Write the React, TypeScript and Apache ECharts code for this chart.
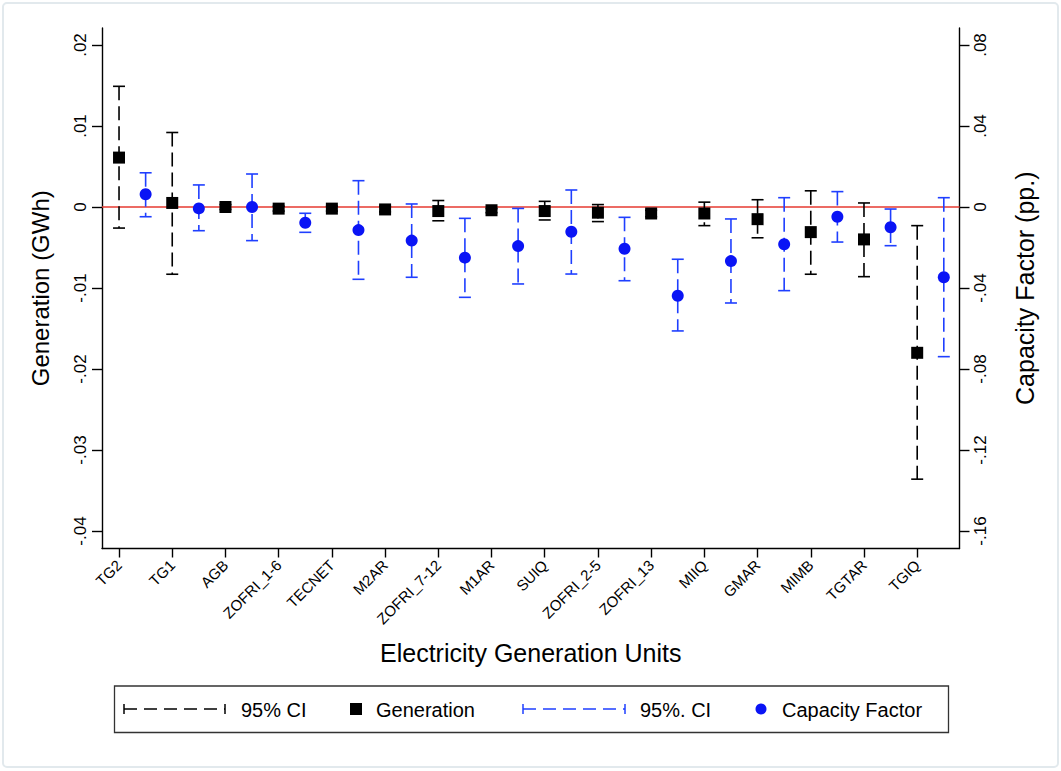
import React, { useEffect, useRef } from 'react';
import * as echarts from 'echarts';

const categories = ['TG2', 'TG1', 'AGB', 'ZOFRI_1-6', 'TECNET', 'M2AR', 'ZOFRI_7-12', 'M1AR', 'SUIQ', 'ZOFRI_2-5', 'ZOFRI_13', 'MIIQ', 'GMAR', 'MIMB', 'TGTAR', 'TGIQ'];

const genEst = [0.0061, 0.0005, 0.0000, -0.0002, -0.0002, -0.0003, -0.0005, -0.0004, -0.0005, -0.0007, -0.0008, -0.0008, -0.0015, -0.0031, -0.0040, -0.0180];
const genLow = [-0.0026, -0.0083, -0.0003, -0.0005, -0.0005, -0.0006, -0.0017, -0.0007, -0.0016, -0.0018, -0.0012, -0.0023, -0.0038, -0.0083, -0.0086, -0.0336];
const genHigh = [0.0149, 0.0092, 0.0003, 0.0001, 0.0001, 0.0001, 0.0008, -0.0002, 0.0007, 0.0003, -0.0004, 0.0006, 0.0009, 0.0020, 0.0005, -0.0023];

const cfEst = [0.0063, -0.0007, 0.0000, -0.0078, -0.0114, -0.0166, -0.0250, -0.0193, -0.0122, -0.0206, -0.0438, -0.0267, -0.0184, -0.0048, -0.0100, -0.0347];
const cfLow = [-0.0048, -0.0117, -0.0166, -0.0125, -0.0357, -0.0347, -0.0446, -0.0380, -0.0331, -0.0364, -0.0612, -0.0474, -0.0413, -0.0173, -0.0191, -0.0739];
const cfHigh = [0.0169, 0.0109, 0.0163, -0.0031, 0.0130, 0.0015, -0.0056, -0.0007, 0.0084, -0.0051, -0.0258, -0.0059, 0.0046, 0.0076, -0.0010, 0.0046];

const genTicks = [-0.04, -0.03, -0.02, -0.01, 0, 0.01, 0.02];
const cfTicks = [-0.16, -0.12, -0.08, -0.04, 0, 0.04, 0.08];
const genRange = [-0.04216, 0.0221];
const cfRange = [-0.16864, 0.0884];
const xRange = [0.68, 16.795];
const zeroLine = [[xRange[0], 0], [xRange[1], 0]];

const legendLabels = ['95% CI', 'Generation', '95%. CI', 'Capacity Factor'];

const FONT = "'Liberation Sans', Arial, Helvetica, sans-serif";
const BLACK = '#000000';
const BLUE_LINE = '#1f3fff';
const BLUE_MARK = '#0a14f5';
const RED = '#e63a30';

function stataFmt(v: number): string {
  if (Math.abs(v) < 1e-9) return '0';
  const s = Math.abs(v).toFixed(2).replace(/^0/, '');
  return (v < 0 ? '-' : '') + s;
}

function ciRender(color: string) {
  return (params: any, api: any) => {
    const x = api.value(0);
    const lo = api.value(1);
    const hi = api.value(2);
    const pLo = api.coord([x, lo]);
    const pHi = api.coord([x, hi]);
    const hw = 6;
    return {
      type: 'group',
      children: [
        {
          type: 'line',
          shape: { x1: pHi[0], y1: pHi[1], x2: pLo[0], y2: pLo[1] },
          style: { stroke: color, lineWidth: 1.6, lineDash: [14, 6] },
        },
        {
          type: 'line',
          shape: { x1: pHi[0] - hw, y1: pHi[1], x2: pHi[0] + hw, y2: pHi[1] },
          style: { stroke: color, lineWidth: 1.6 },
        },
        {
          type: 'line',
          shape: { x1: pLo[0] - hw, y1: pLo[1], x2: pLo[0] + hw, y2: pLo[1] },
          style: { stroke: color, lineWidth: 1.6 },
        },
      ],
    };
  };
}

function legendGraphic() {
  const cy = 709;
  const dashed = (x1: number, x2: number, color: string) => [
    { type: 'line', shape: { x1, y1: cy, x2, y2: cy }, style: { stroke: color, lineWidth: 1.5, lineDash: [13, 7] } },
    { type: 'line', shape: { x1, y1: cy - 5, x2: x1, y2: cy + 5 }, style: { stroke: color, lineWidth: 1.5 } },
    { type: 'line', shape: { x1: x2, y1: cy - 5, x2: x2, y2: cy + 5 }, style: { stroke: color, lineWidth: 1.5 } },
  ];
  const txt = (x: number, t: string) => ({
    type: 'text',
    x,
    y: cy + 1,
    style: { text: t, font: `20px ${FONT}`, fill: '#000', textVerticalAlign: 'middle', verticalAlign: 'middle' },
  });
  return [
    {
      type: 'rect',
      shape: { x: 3, y: 3, width: 1055, height: 764, r: 4 },
      style: { fill: 'none', stroke: '#e2e9ed', lineWidth: 2 },
      silent: true,
    },
    {
      type: 'rect',
      shape: { x: 114.5, y: 686, width: 834, height: 46.5 },
      style: { fill: 'none', stroke: '#333', lineWidth: 1.3 },
      silent: true,
    },
    ...dashed(124, 225, BLACK),
    txt(241, legendLabels[0]),
    { type: 'rect', shape: { x: 350, y: cy - 6, width: 12, height: 12 }, style: { fill: BLACK } },
    txt(376, legendLabels[1]),
    ...dashed(523, 625, BLUE_LINE),
    txt(640, legendLabels[2]),
    { type: 'circle', shape: { cx: 761, cy, r: 5.5 }, style: { fill: BLUE_MARK } },
    txt(782, legendLabels[3]),
  ];
}

export default function App() {
  const ref = useRef<HTMLDivElement>(null);

  useEffect(() => {
    if (!ref.current) return;
    const chart = echarts.init(ref.current, undefined, { renderer: 'svg' });

    const catPos = categories.map((_, i) => i + 1);
    const genCI = categories.map((_, i) => [i + 1, genLow[i], genHigh[i]]);
    const genPts = categories.map((_, i) => [i + 1, genEst[i]]);
    const cfCI = categories.map((_, i) => [i + 1.5, cfLow[i], cfHigh[i]]);
    const cfPts = categories.map((_, i) => [i + 1.5, cfEst[i]]);

    const axisLineStyle = { color: BLACK, width: 1.4 };

    chart.setOption({
      animation: false,
      backgroundColor: '#ffffff',
      textStyle: { fontFamily: FONT },
      grid: { left: 102, top: 28, right: 101.5, bottom: 222.5, containLabel: false },
      xAxis: {
        type: 'value',
        min: xRange[0],
        max: xRange[1],
        splitLine: { show: false },
        axisLine: { show: true, onZero: false, lineStyle: axisLineStyle },
        axisTick: { show: true, length: 9, lineStyle: axisLineStyle, customValues: catPos },
        axisLabel: {
          show: true,
          customValues: catPos,
          rotate: 45,
          margin: 14,
          fontSize: 15,
          color: '#000',
          fontFamily: FONT,
          formatter: (v: number) => categories[Math.round(v) - 1] ?? '',
        },
        name: 'Electricity Generation Units',
        nameLocation: 'middle',
        nameGap: 92,
        nameTextStyle: { fontSize: 25, color: '#000', fontFamily: FONT },
      },
      yAxis: [
        {
          type: 'value',
          position: 'left',
          min: genRange[0],
          max: genRange[1],
          splitLine: { show: false },
          axisLine: { show: true, onZero: false, lineStyle: axisLineStyle },
          axisTick: { show: true, length: 10, lineStyle: axisLineStyle, customValues: genTicks },
          axisLabel: {
            customValues: genTicks,
            rotate: 90,
            margin: 13,
            fontSize: 17,
            color: '#000',
            fontFamily: FONT,
            formatter: (v: number) => stataFmt(v),
          },
          name: 'Generation (GWh)',
          nameLocation: 'middle',
          nameRotate: 90,
          nameGap: 50,
          nameTextStyle: { fontSize: 24, color: '#000', fontFamily: FONT },
        },
        {
          type: 'value',
          position: 'right',
          min: cfRange[0],
          max: cfRange[1],
          splitLine: { show: false },
          axisLine: { show: true, onZero: false, lineStyle: axisLineStyle },
          axisTick: { show: true, length: 10, lineStyle: axisLineStyle, customValues: cfTicks },
          axisLabel: {
            customValues: cfTicks,
            rotate: 90,
            margin: 12,
            fontSize: 17,
            color: '#000',
            fontFamily: FONT,
            formatter: (v: number) => stataFmt(v),
          },
          name: 'Capacity Factor (pp.)',
          nameLocation: 'middle',
          nameRotate: 90,
          nameGap: 53,
          nameTextStyle: { fontSize: 25, color: '#000', fontFamily: FONT },
        },
      ],
      series: [
        {
          type: 'line',
          xAxisIndex: 0,
          yAxisIndex: 0,
          z: 1,
          silent: true,
          symbol: 'none',
          lineStyle: { color: RED, width: 1.5, opacity: 1 },
          data: zeroLine,
        },
        {
          type: 'custom',
          name: '95% CI',
          xAxisIndex: 0,
          yAxisIndex: 0,
          z: 2,
          renderItem: ciRender(BLACK),
          encode: { x: 0, y: [1, 2] },
          data: genCI,
        },
        {
          type: 'scatter',
          name: 'Generation',
          xAxisIndex: 0,
          yAxisIndex: 0,
          z: 4,
          symbol: 'rect',
          symbolSize: 12,
          itemStyle: { color: BLACK, opacity: 1 },
          data: genPts,
        },
        {
          type: 'custom',
          name: '95%. CI',
          xAxisIndex: 0,
          yAxisIndex: 1,
          z: 2,
          renderItem: ciRender(BLUE_LINE),
          encode: { x: 0, y: [1, 2] },
          data: cfCI,
        },
        {
          type: 'scatter',
          name: 'Capacity Factor',
          xAxisIndex: 0,
          yAxisIndex: 1,
          z: 4,
          symbol: 'circle',
          symbolSize: 12,
          itemStyle: { color: BLUE_MARK, opacity: 1 },
          data: cfPts,
        },
      ],
      graphic: legendGraphic(),
    });

    return () => {
      chart.dispose();
    };
  }, []);

  return (
    <div
      ref={ref}
      style={{ position: 'fixed', left: 0, top: 0, width: 1061, height: 771, background: '#fff' }}
    />
  );
}
